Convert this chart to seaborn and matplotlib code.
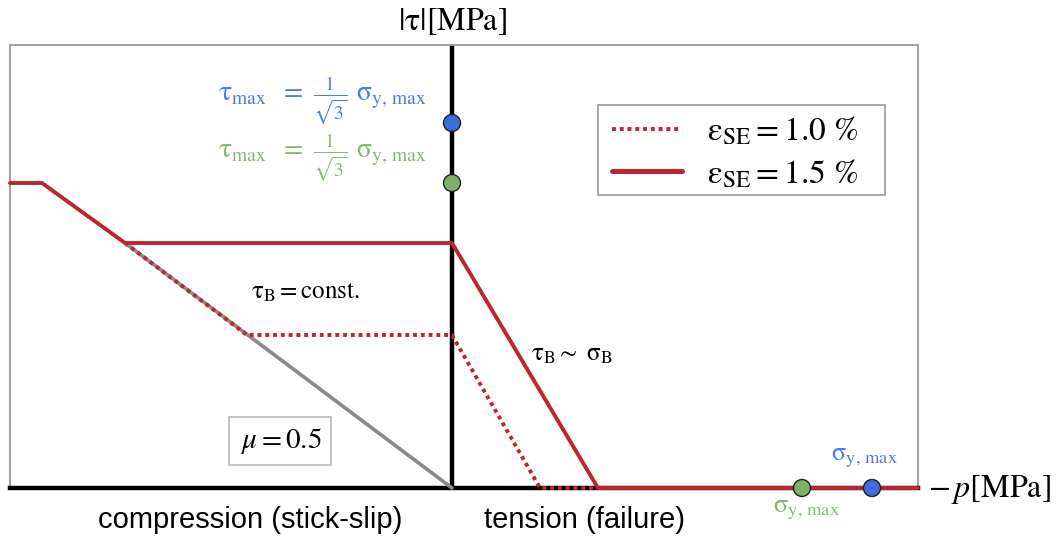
import numpy as np
import pandas as pd
import matplotlib.pyplot as plt
import seaborn as sns
from matplotlib.lines import Line2D
from matplotlib.patches import Rectangle

# ── data (x = -p, y = |tau|, arbitrary units) ─────────────────────────────────
solid_x = [-4.42, -4.10, -3.27, 0.00, 1.46, 4.66]      # eps_SE = 1.5 %
solid_y = [3.05, 3.05, 2.45, 2.45, 0.00, 0.00]
dotted_x = [-3.27, -2.05, 0.00, 0.88, 1.46]            # eps_SE = 1.0 %
dotted_y = [2.45, 1.53, 1.53, 0.00, 0.00]
friction_x = [-3.27, 0.00]                             # mu = 0.5 line
friction_y = [2.45, 0.00]
tau_max_y = [3.65, 3.05]                               # blue, green on |tau| axis
sigma_max_x = [4.20, 3.50]                             # blue, green on -p axis

RED   = "#BE262B"
GRAY  = "#8A8A8A"
BLUE  = "#3D6BE0"
GREEN = "#7FB068"
BLUE_T  = "#4B7BE5"
GREEN_T = "#86B673"

sns.set_style("white")
plt.rcParams["mathtext.fontset"] = "stix"
plt.rcParams["font.family"] = ["Liberation Serif", "DejaVu Serif"]
plt.rcParams["text.color"] = "black"

fig = plt.figure(figsize=(10.56, 5.39), dpi=100)
ax = fig.add_axes([10 / 1056, 51 / 539, 908 / 1056, 443 / 539])
ax.set_xlim(-4.42, 4.66)
ax.set_ylim(0, 4.43)

# ── axes lines ────────────────────────────────────────────────────────────────
ax.axvline(0, color="black", lw=3.2, zorder=2)
for side in ["top", "right", "left"]:
    ax.spines[side].set_color("#9A9A9A")
    ax.spines[side].set_linewidth(1.3)
ax.spines["bottom"].set_color("black")
ax.spines["bottom"].set_linewidth(3.2)
ax.set_xticks([])
ax.set_yticks([])

# ── curves ────────────────────────────────────────────────────────────────────
sns.lineplot(x=friction_x, y=friction_y, sort=False, estimator=None,
             color=GRAY, lw=2.6, ax=ax, zorder=3, clip_on=False)
sns.lineplot(x=solid_x, y=solid_y, sort=False, estimator=None,
             color=RED, lw=2.8, ax=ax, zorder=4, clip_on=False)
sns.lineplot(x=dotted_x, y=dotted_y, sort=False, estimator=None,
             color=RED, lw=2.8, linestyle=(0, (1, 1)), ax=ax, zorder=4,
             clip_on=False)

# ── markers ───────────────────────────────────────────────────────────────────
sns.scatterplot(x=[0, 0], y=tau_max_y, hue=["b", "g"], palette=[BLUE, GREEN],
                s=150, edgecolor="#222222", linewidth=1.0, legend=False,
                ax=ax, zorder=6, clip_on=False)
sns.scatterplot(x=sigma_max_x, y=[0, 0], hue=["b", "g"], palette=[BLUE, GREEN],
                s=150, edgecolor="#222222", linewidth=1.0, legend=False,
                ax=ax, zorder=6, clip_on=False)

# ── legend (frame drawn separately so it can be wider than its content) ───────
ax.add_patch(Rectangle((588 / 908, 293 / 443), 287 / 908, 90 / 443,
                       transform=ax.transAxes, fc="white", ec="#9A9A9A",
                       lw=1.2, zorder=7))
handles = [
    Line2D([], [], color=RED, lw=2.8, linestyle=(0, (1, 1))),
    Line2D([], [], color=RED, lw=3.6),
]
labels = [r"$\mathrm{ε}_{\mathrm{SE}} = 1.0\ \%$",
          r"$\mathrm{ε}_{\mathrm{SE}} = 1.5\ \%$"]
leg = ax.legend(handles, labels, loc="upper left",
                bbox_to_anchor=(602 / 908, 373 / 443),
                fontsize=24, frameon=False,
                handlelength=2.1, handletextpad=0.75, labelspacing=0.3,
                borderpad=0, borderaxespad=0)
leg.set_zorder(8)

# ── axis labels ───────────────────────────────────────────────────────────────
ax.text(0, 4.66, r"$|\mathrm{τ}|[\mathrm{MPa}]$", ha="center",
        va="center", fontsize=23, clip_on=False)
ax.text(4.76, -0.02, r"$-\,p[\mathrm{MPa}]$", ha="left", va="center",
        fontsize=23, clip_on=False)
ax.text(-2.02, -0.32, "compression (stick-slip)", ha="center", va="center",
        fontsize=21, family="Liberation Sans", clip_on=False)
ax.text(1.33, -0.32, "tension (failure)", ha="center", va="center",
        fontsize=21, family="Liberation Sans", clip_on=False)

# ── annotations ───────────────────────────────────────────────────────────────
ax.text(-1.47, 1.96, r"$\mathrm{τ}_{\mathrm{B}} = \mathrm{const.}$",
        ha="center", va="center", fontsize=18)
ax.text(1.2, 1.33, r"$\mathrm{τ}_{\mathrm{B}}{\sim}\ \mathrm{σ}_{\mathrm{B}}$",
        ha="center", va="center", fontsize=18)
ax.text(-1.72, 0.47, r"$\,\mu = 0.5\,$", ha="center", va="center", fontsize=21,
        bbox=dict(boxstyle="square,pad=0.3", fc="white", ec="#BBBBBB", lw=1.2))
formula = (r"$\mathrm{τ}_{\mathrm{max}}\ \ =\ \frac{1}{\sqrt{3}}\ "
           r"\mathrm{σ}_{\mathrm{y,\,max}}$")
ax.text(-2.34, 3.88, formula, ha="left", va="center", fontsize=20,
        color=BLUE_T)
ax.text(-2.34, 3.31, formula, ha="left", va="center", fontsize=20,
        color=GREEN_T)
ax.text(4.13, 0.30, r"$\mathrm{σ}_{\mathrm{y,\,max}}$", ha="center",
        va="center", fontsize=19, color=BLUE_T)
ax.text(3.55, -0.22, r"$\mathrm{σ}_{\mathrm{y,\,max}}$", ha="center",
        va="center", fontsize=19, color=GREEN_T, clip_on=False)

fig.savefig("out.png", dpi=100)
